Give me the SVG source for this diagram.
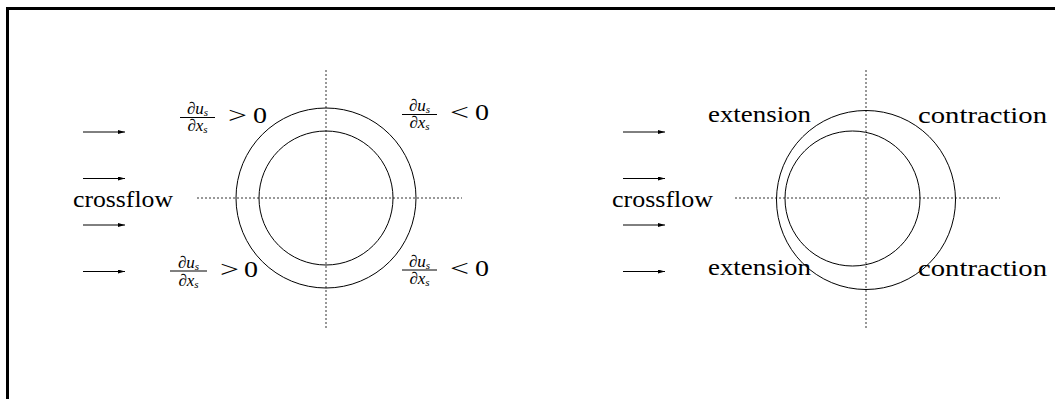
<svg xmlns="http://www.w3.org/2000/svg" width="1055" height="399" viewBox="0 0 1055 399">
<style>
text{font-family:'Liberation Serif','Times New Roman','DejaVu Serif',serif;fill:#000}
.t{font-size:24px}
.f{font-size:17px}
.it{font-style:italic}
.sub{font-size:11px;font-style:italic}
.ax{stroke:#333;stroke-width:1;stroke-dasharray:2 2;fill:none}
.c{stroke:#000;stroke-width:1;fill:none}
.bar{stroke:#000;stroke-width:1}
.ar{stroke:#000;stroke-width:1;marker-end:url(#ah)}
</style>
<defs>
<marker id="ah" markerWidth="7" markerHeight="4" refX="7" refY="2" orient="auto" markerUnits="userSpaceOnUse">
<path d="M0,0 L7,2 L0,4 Z" fill="#000"/>
</marker>
</defs>
<rect id="frame" x="7.5" y="8.5" width="1100" height="420" fill="none" stroke="#000" stroke-width="3"/>

<g id="left-cylinder">
<line class="ax" x1="326" y1="70" x2="326" y2="330"/>
<line class="ax" x1="197" y1="198" x2="462" y2="198"/>
<circle class="c" cx="326" cy="198" r="90"/>
<circle class="c" cx="326" cy="198" r="67"/>
</g>
<g id="right-cylinder">
<line class="ax" x1="866" y1="70" x2="866" y2="328"/>
<line class="ax" x1="735" y1="198" x2="1000" y2="198"/>
<circle class="c" cx="866" cy="200" r="89.5"/>
<circle class="c" cx="852.5" cy="198.5" r="67.5"/>
</g>

<g id="connectors">
<line class="ar" x1="83" y1="132" x2="125" y2="132"/>
<line class="ar" x1="83" y1="178.5" x2="125" y2="178.5"/>
<line class="ar" x1="83" y1="225" x2="125" y2="225"/>
<line class="ar" x1="83" y1="271.5" x2="125" y2="271.5"/>
<line class="ar" x1="623" y1="132" x2="665" y2="132"/>
<line class="ar" x1="623" y1="178.5" x2="665" y2="178.5"/>
<line class="ar" x1="623" y1="225" x2="665" y2="225"/>
<line class="ar" x1="623" y1="271.5" x2="665" y2="271.5"/>
</g>

<g id="crossflow-left"><text class="t" x="73" y="207" textLength="100" lengthAdjust="spacingAndGlyphs">crossflow</text></g>
<g id="crossflow-right"><text class="t" x="612" y="207" textLength="101" lengthAdjust="spacingAndGlyphs">crossflow</text></g>

<g id="label-tl">
<text class="f" x="197.5" y="114" text-anchor="middle">∂<tspan class="it">u</tspan><tspan class="sub" dy="2">s</tspan></text>
<line class="bar" x1="180" y1="117.5" x2="215" y2="117.5"/>
<text class="f" x="197.5" y="131" text-anchor="middle">∂<tspan class="it">x</tspan><tspan class="sub" dy="2">s</tspan></text>
<text class="t" x="228" y="123" textLength="19" lengthAdjust="spacingAndGlyphs">&gt;</text>
<text class="t" x="253" y="123" textLength="14" lengthAdjust="spacingAndGlyphs">0</text>
</g>
<g id="label-bl">
<text class="f" x="188.5" y="268" text-anchor="middle">∂<tspan class="it">u</tspan><tspan class="sub" dy="2">s</tspan></text>
<line class="bar" x1="170" y1="271" x2="207" y2="271"/>
<text class="f" x="188.5" y="286" text-anchor="middle">∂<tspan class="it">x</tspan><tspan class="sub" dy="2">s</tspan></text>
<text class="t" x="220" y="277" textLength="19" lengthAdjust="spacingAndGlyphs">&gt;</text>
<text class="t" x="244" y="277" textLength="14" lengthAdjust="spacingAndGlyphs">0</text>
</g>
<g id="label-tr">
<text class="f" x="419.5" y="111" text-anchor="middle">∂<tspan class="it">u</tspan><tspan class="sub" dy="2">s</tspan></text>
<line class="bar" x1="402" y1="114.5" x2="437" y2="114.5"/>
<text class="f" x="419.5" y="128" text-anchor="middle">∂<tspan class="it">x</tspan><tspan class="sub" dy="2">s</tspan></text>
<text class="t" x="450" y="120" textLength="19" lengthAdjust="spacingAndGlyphs">&lt;</text>
<text class="t" x="475" y="120" textLength="14" lengthAdjust="spacingAndGlyphs">0</text>
</g>
<g id="label-br">
<text class="f" x="419.5" y="267" text-anchor="middle">∂<tspan class="it">u</tspan><tspan class="sub" dy="2">s</tspan></text>
<line class="bar" x1="402" y1="270" x2="437" y2="270"/>
<text class="f" x="419.5" y="284" text-anchor="middle">∂<tspan class="it">x</tspan><tspan class="sub" dy="2">s</tspan></text>
<text class="t" x="450" y="276" textLength="19" lengthAdjust="spacingAndGlyphs">&lt;</text>
<text class="t" x="475" y="276" textLength="14" lengthAdjust="spacingAndGlyphs">0</text>
</g>

<g id="extension-top"><text class="t" x="708" y="122" textLength="103" lengthAdjust="spacingAndGlyphs">extension</text></g>
<g id="extension-bottom"><text class="t" x="708" y="275" textLength="103" lengthAdjust="spacingAndGlyphs">extension</text></g>
<g id="contraction-top"><text class="t" x="918" y="123" textLength="129" lengthAdjust="spacingAndGlyphs">contraction</text></g>
<g id="contraction-bottom"><text class="t" x="918" y="276" textLength="129" lengthAdjust="spacingAndGlyphs">contraction</text></g>
</svg>
